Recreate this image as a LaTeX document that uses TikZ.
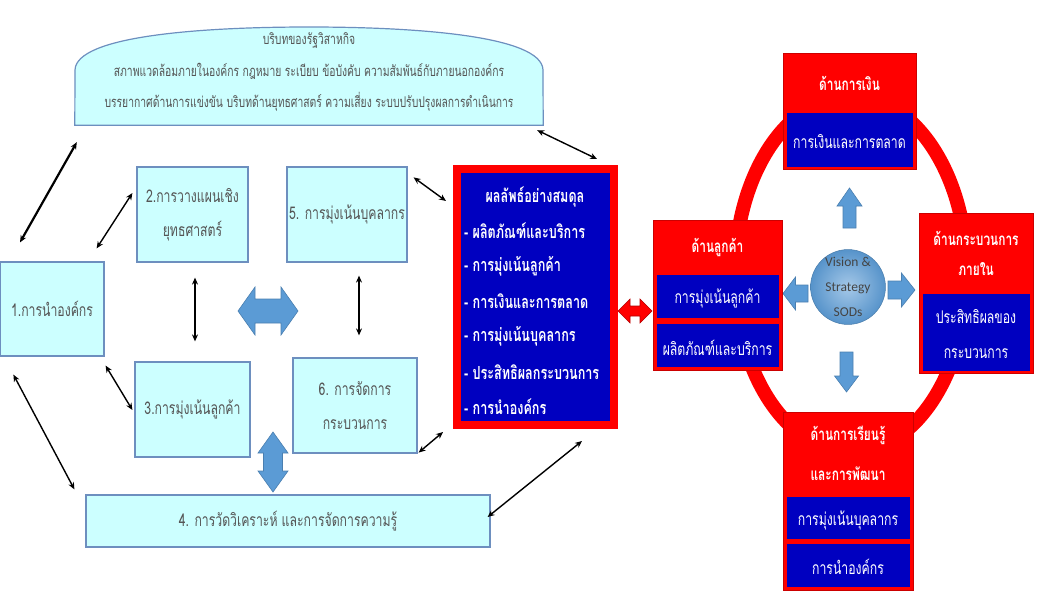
\documentclass[tikz,border=0pt]{standalone}
\usepackage{fontspec}
\setmainfont{Liberation Sans}
\newfontfamily\thai[Script=Thai,FakeStretch=0.7]{Loma}
\newfontfamily\calib{Carlito}
\usetikzlibrary{arrows.meta,calc}
\definecolor{cyanfill}{HTML}{CCFFFF}
\definecolor{cyanedge}{HTML}{6D8FBF}
\definecolor{graytext}{HTML}{555555}
\definecolor{blockblue}{HTML}{5B9BD5}
\definecolor{blockedge}{HTML}{4A7FB0}
\definecolor{darkblue}{HTML}{0000C0}
\definecolor{ringred}{HTML}{FF0000}
\tikzset{
  cbox/.style={draw=cyanedge, line width=1.2pt, fill=cyanfill, inner sep=0pt,
    text=graytext, align=center, font=\thai\fontsize{17.5}{34}\selectfont},
  conn/.style={line width=1.4pt, {Stealth[length=7pt,width=6pt]}-{Stealth[length=7pt,width=6pt]}},
  thickconn/.style={conn, line width=2.2pt},
  barrow/.style={fill=blockblue, draw=blockedge, line width=0.6pt},
  redarrow/.style={fill=ringred, draw=ringred!70!black, line width=0.6pt},
  whitet/.style={text=white, font=\thai\bfseries\fontsize{18}{34}\selectfont, align=center, inner sep=0pt},
  whiter/.style={text=white, font=\thai\fontsize{17.5}{35}\selectfont, align=center, inner sep=0pt},
  redpanel/.style={fill=ringred, draw=ringred!80!black, line width=0.6pt, inner sep=0pt},
  bluepanel/.style={fill=darkblue, draw=ringred, line width=0.8pt, inner sep=0pt},
}
\begin{document}
\begin{tikzpicture}[x=1pt,y=-1pt]
\useasboundingbox (0,0) rectangle (1050,602);

% context shape
\node[inner sep=0pt, minimum width=468pt, minimum height=55pt] (ctx) at (309,97.5) {};
\draw[draw=cyanedge, line width=1.2pt, fill=cyanfill]
  (ctx.south west) -- (75,70) .. controls (76,36) and (200,27) .. (309,27)
  .. controls (418,27) and (542,36) .. (543,70) -- (ctx.south east) -- cycle;
\node[text=graytext, align=center, font=\thai\fontsize{14.8}{31.5}\selectfont, inner sep=0pt] (ctxt) at (309,72)
  {บริบทของรัฐวิสาหกิจ\\สภาพแวดล้อมภายในองค์กร กฎหมาย ระเบียบ ข้อบังคับ ความสัมพันธ์กับภายนอกองค์กร\\บรรยากาศด้านการแข่งขัน บริบทด้านยุทธศาสตร์ ความเสี่ยง ระบบปรับปรุงผลการดำเนินการ};

% cyan boxes
\node[cbox, minimum width=104pt, minimum height=94pt] (b1) at (52,309) {1.การนำองค์กร};
\node[cbox, minimum width=111pt, minimum height=95pt] (b2) at (192.5,214.5) {2.การวางแผนเชิง\\ยุทธศาสตร์};
\node[cbox, minimum width=120pt, minimum height=95pt] (b5) at (347,214.5) {5. การมุ่งเน้นบุคลากร};
\node[cbox, minimum width=115pt, minimum height=95pt] (b3) at (192.5,409.5) {3.การมุ่งเน้นลูกค้า};
\node[cbox, minimum width=124pt, minimum height=95pt] (b6) at (355,405.5) {6. การจัดการ\\กระบวนการ};
\node[cbox, minimum width=404pt, minimum height=52pt] (b4) at (288,521) {4. การวัดวิเคราะห์ และการจัดการความรู้};

% results box
\node[draw=ringred, line width=8pt, fill=darkblue, minimum width=157pt, minimum height=256pt, inner sep=0pt] (res) at (535,297) {};
\node[whitet] (rt) at (535,197) {ผลลัพธ์อย่างสมดุล};
\foreach \t [count=\i] in {- ผลิตภัณฑ์และบริการ, - การมุ่งเน้นลูกค้า, - การเงินและการตลาด, - การมุ่งเน้นบุคลากร, - ประสิทธิผลกระบวนการ, - การนำองค์กร}
  \node[whitet, anchor=west] (r\i) at (464,{231+35.2*(\i-1)}) {\t};

% block arrows (left part)
\draw[barrow, shift={(268,311)}] (-30,0) -- (-13,-24) -- (-13,-12) -- (13,-12) -- (13,-24) -- (30,0)
  -- (13,24) -- (13,12) -- (-13,12) -- (-13,24) -- cycle;
\draw[barrow, shift={(273,462)}] (0,-30) -- (15,-9) -- (9.5,-9) -- (9.5,9) -- (15,9) -- (0,30)
  -- (-15,9) -- (-9.5,9) -- (-9.5,-9) -- (-15,-9) -- cycle;

% connectors
\draw[thickconn] ($(b1.north)+(-32,-19)$) -- ($(ctx.south west)+(2,17)$);
\draw[conn] ($(b1.north east)+(-8,-13)$) -- ($(b2.west)+(-4,-21.5)$);
\draw[conn] ($(b2.south)+(2.5,15)$) -- ($(b3.north)+(2.5,-20)$);
\draw[conn] ($(b5.south)+(12,13)$) -- ($(b6.north)+(4,-22)$);
\draw[conn] ($(b1.south east)+(1,9)$) -- ($(b3.west)+(-2,0.5)$);
\draw[conn] ($(b1.south west)+(14,18)$) -- ($(b4.north west)+(-11,-5)$);
\draw[conn] ($(b5.north east)+(6,11)$) -- ($(res.north west)+(-6.5,36)$);
\draw[conn] ($(b6.south east)+(1,-1)$) -- ($(res.south west)+(-9.5,3)$);
\draw[conn] ($(ctx.south east)+(-6,5)$) -- ($(res.north)+(62,-6)$);
\draw[conn] ($(b4.east)+(-3,-4)$) -- ($(res.south)+(47,12)$);

% red double arrow
\draw[redarrow, shift={(635,311)}] (-17,0) -- (-5,-12) -- (-5,-5) -- (5,-5) -- (5,-12) -- (17,0)
  -- (5,12) -- (5,5) -- (-5,5) -- (-5,12) -- cycle;

% ring
\draw[ringred, line width=14pt] (851,274) ellipse [x radius=116, y radius=178];

% center circle
\node[circle, minimum size=74pt, inner sep=0pt, inner color=blockblue!55!white, outer color=blockblue!95!black, draw=blockblue!80!black, line width=0.5pt,
  text=graytext!80!black, align=center, font=\calib\fontsize{13.5}{25}\selectfont] (sod) at (848,287) {Vision \&\\Strategy\\SODs};

% arrows around circle
\draw[barrow, shift={(849.5,208)}] (0,-20) -- (12.5,-2) -- (6.5,-2) -- (6.5,20) -- (-6.5,20) -- (-6.5,-2) -- (-12.5,-2) -- cycle;
\draw[barrow, shift={(795.5,293.5)}] (-12.5,0) -- (0,-16.5) -- (0,-8.5) -- (12.5,-8.5) -- (12.5,8.5) -- (0,8.5) -- (0,16.5) -- cycle;
\draw[barrow, shift={(901.5,290)}] (13.5,0) -- (0,-17) -- (0,-9) -- (-13.5,-9) -- (-13.5,9) -- (0,9) -- (0,17) -- cycle;
\draw[barrow, shift={(846.5,372)}] (0,20) -- (12,4) -- (6.5,4) -- (6.5,-20) -- (-6.5,-20) -- (-6.5,4) -- (-12,4) -- cycle;

% perspective panels
% finance
\node[redpanel, minimum width=133pt, minimum height=116pt] (fin) at (849.5,111) {};
\node[bluepanel, minimum width=127pt, minimum height=55pt] (finb) at (849.5,139.5) {};
\node[whitet, font=\thai\bfseries\fontsize{17}{34}\selectfont] (fint) at (849.5,83) {ด้านการเงิน};
\node[whiter] (finbt) at (849.5,142) {การเงินและการตลาด};
% customer
\node[redpanel, minimum width=129pt, minimum height=150pt] (cus) at (717.5,295) {};
\node[bluepanel, minimum width=123pt, minimum height=44pt] (cusb1) at (717.5,296) {};
\node[bluepanel, minimum width=123pt, minimum height=44pt] (cusb2) at (717.5,345) {};
\node[whitet, font=\thai\bfseries\fontsize{17}{34}\selectfont] (cust) at (717.5,247) {ด้านลูกค้า};
\node[whiter] (cusb1t) at (717.5,298) {การมุ่งเน้นลูกค้า};
\node[whiter] (cusb2t) at (717.5,348) {ผลิตภัณฑ์และบริการ};
% internal process
\node[redpanel, minimum width=114pt, minimum height=160pt] (int) at (976,293) {};
\node[bluepanel, minimum width=108pt, minimum height=78pt] (intb) at (976,332) {};
\node[whitet, font=\thai\bfseries\fontsize{17}{30}\selectfont] (intt) at (976,253) {ด้านกระบวนการ\\ภายใน};
\node[whiter] (intbt) at (976,334.5) {ประสิทธิผลของ\\กระบวนการ};
% learning
\node[redpanel, minimum width=130pt, minimum height=178pt] (lrn) at (848,501) {};
\node[bluepanel, minimum width=124pt, minimum height=43pt] (lrnb1) at (848,517.5) {};
\node[bluepanel, minimum width=124pt, minimum height=44pt] (lrnb2) at (848,565) {};
\node[whitet, font=\thai\bfseries\fontsize{17}{40}\selectfont] (lrnt) at (848,453) {ด้านการเรียนรู้\\และการพัฒนา};
\node[whiter] (lrnb1t) at (848,520) {การมุ่งเน้นบุคลากร};
\node[whiter] (lrnb2t) at (848,567) {การนำองค์กร};
\end{tikzpicture}
\end{document}
